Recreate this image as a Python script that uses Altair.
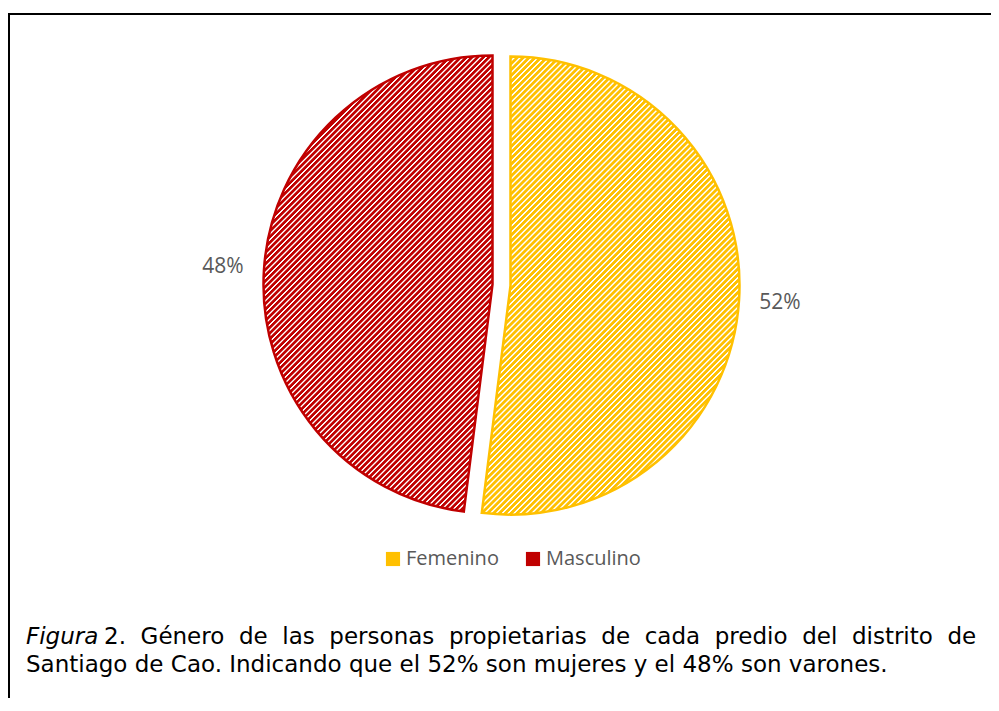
import altair as alt
import pandas as pd

# ---- data ----
generos = ["Femenino", "Masculino"]
porcentajes = [52, 48]
colores = ["#FFC000", "#C00000"]
caption_l1_italic = "Figura"
caption_l1_words = ["2.", "Género", "de", "las", "personas", "propietarias", "de",
                    "cada", "predio", "del", "distrito", "de"]
caption_l2 = "Santiago de Cao. Indicando que el 52% son mujeres y el 48% son varones."

W, H = 983, 690
R = 229

df = pd.DataFrame({"genero": generos, "pct": porcentajes, "orden": [0, 1]})


def hatch(color, x2, y2, n=121):
    stops = []
    for k in range(n):
        a = k / n
        stops += [alt.GradientStop(color=color, offset=a),
                  alt.GradientStop(color=color, offset=(k + 0.40) / n),
                  alt.GradientStop(color="#ffffff", offset=(k + 0.58) / n),
                  alt.GradientStop(color="#ffffff", offset=(k + 0.74) / n),
                  alt.GradientStop(color=color, offset=(k + 0.92) / n)]
    return alt.LinearGradient(gradient="linear", x1=0, y1=0, x2=x2, y2=y2, stops=stops)


base = (
    alt.Chart(df)
    .transform_window(cum="sum(pct)", sort=[alt.SortField("orden")], frame=[None, 0])
    .transform_calculate(t1="datum.cum / 100 * 2 * PI")
    .transform_calculate(t0="(datum.cum - datum.pct) / 100 * 2 * PI")
    .transform_calculate(tm="(datum.t0 + datum.t1) / 2")
    .transform_calculate(label="datum.pct + '%'")
)

centros = {"Femenino": (502.5, 277.6), "Masculino": (484.5, 276.4)}
grad_dir = {"Femenino": (0.668, 1.187), "Masculino": (0.6025, 1.1997)}

layers = []
for g, col in zip(generos, colores):
    cx, cy = centros[g]
    gx, gy = grad_dir[g]
    sub = base.transform_filter(alt.datum.genero == g)
    arc = sub.mark_arc(
        x=cx, y=cy, outerRadius=R, fill=hatch(col, gx, gy),
        stroke=col, strokeWidth=2.5,
    ).encode(
        theta=alt.Theta("t0:Q", scale=None, stack=None),
        theta2="t1:Q",
    )
    txt = sub.mark_text(
        x=cx, y=cy, radius=270, font="Open Sans", fontSize=21,
        color="#595959", align="center", baseline="middle",
    ).encode(
        theta=alt.Theta("tm:Q", scale=None, stack=None),
        text="label:N",
    )
    layers += [arc, txt]

legend_layer = alt.Chart(df).mark_square(opacity=0).encode(
    color=alt.Color(
        "genero:N",
        scale=alt.Scale(domain=generos, range=colores),
        legend=alt.Legend(
            orient="none", legendX=375, legendY=541, direction="horizontal",
            title=None, symbolType="square", symbolSize=200, symbolOpacity=1,
            symbolStrokeWidth=0, labelFont="Open Sans", labelFontSize=20,
            labelColor="#595959", columnPadding=24, labelOffset=3,
        ),
    )
)

# frame
frame_df = pd.DataFrame({"k": [0]})
top_rule = alt.Chart(frame_df).mark_rule(color="black", strokeWidth=2).encode(
    x=alt.value(0), x2=alt.value(W), y=alt.value(6))
left_rule = alt.Chart(frame_df).mark_rule(color="black", strokeWidth=2).encode(
    x=alt.value(1), y=alt.value(6), y2=alt.value(H))

nb = "\u00a0\u00a0"
cap_df = pd.DataFrame({"it": [caption_l1_italic],
                       "l1": [nb.join(caption_l1_words)],
                       "l2": [caption_l2]})
cap_it = alt.Chart(cap_df).mark_text(
    font="DejaVu Sans", fontStyle="italic", fontSize=23, color="black",
    align="left", baseline="alphabetic").encode(
    x=alt.value(18), y=alt.value(636), text="it:N")
cap_1 = alt.Chart(cap_df).mark_text(
    font="DejaVu Sans", fontSize=23, color="black",
    align="left", baseline="alphabetic").encode(
    x=alt.value(96), y=alt.value(636), text="l1:N")
cap_2 = alt.Chart(cap_df).mark_text(
    font="DejaVu Sans", fontSize=23, color="black",
    align="left", baseline="alphabetic").encode(
    x=alt.value(18), y=alt.value(664), text="l2:N")

chart = alt.layer(
    *layers, legend_layer, top_rule, left_rule, cap_it, cap_1, cap_2
).properties(
    width=W, height=H, autosize=alt.AutoSizeParams(type="none"), padding=0,
).configure_view(stroke=None)

chart.save("out.html", embed_options={"renderer": "svg", "actions": False})
